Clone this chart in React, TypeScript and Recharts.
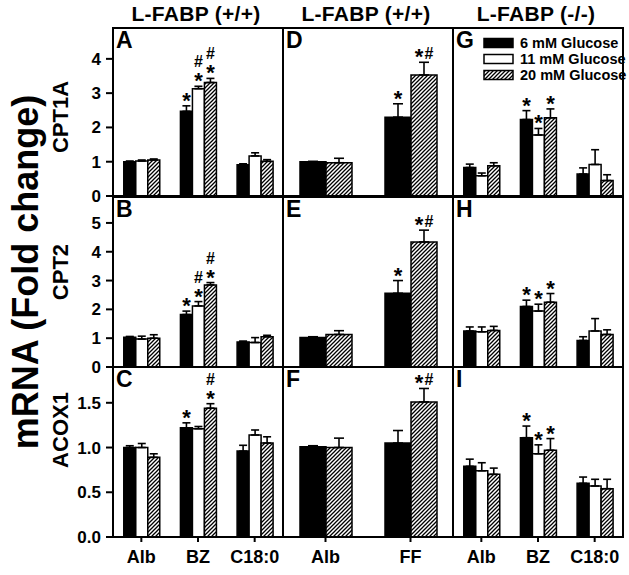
import React from "react";
import { BarChart, Bar, XAxis, YAxis, ErrorBar, ReferenceArea, LabelList } from "recharts";

const FONT = "'Liberation Sans', Arial, Helvetica, sans-serif";

const glucoseLevels = ["6 mM Glucose", "11 mM Glucose", "20 mM Glucose"];
const treatments3 = ["Alb", "BZ", "C18:0"];
const treatments2 = ["Alb", "FF"];
const columnTitles = ["L-FABP (+/+)", "L-FABP (+/+)", "L-FABP (-/-)"];
const geneNames = ["CPT1A", "CPT2", "ACOX1"];
const panelLetters = [
  ["A", "D", "G"],
  ["B", "E", "H"],
  ["C", "F", "I"],
];

const ticksCPT1A = [0, 1, 2, 3, 4];
const ticksCPT2 = [0, 1, 2, 3, 4, 5];
const ticksACOX1 = [0, 0.5, 1.0, 1.5];
const maxCPT1A = 4.9;
const maxCPT2 = 5.9;
const maxACOX1 = 1.9;

// CPT1A, L-FABP (+/+), Alb / BZ / C18:0
const A_6 = [1.0, 2.47, 0.91];
const A_6_sem = [0.02, 0.16, 0.03];
const A_6_sig = ["", "*", ""];
const A_11 = [1.02, 3.13, 1.17];
const A_11_sem = [0.03, 0.07, 0.09];
const A_11_sig = ["", "#\n*", ""];
const A_20 = [1.05, 3.31, 1.01];
const A_20_sem = [0.03, 0.12, 0.05];
const A_20_sig = ["", "#\n*", ""];

// CPT1A, L-FABP (+/+), Alb / FF
const D_6 = [1.0, 2.3];
const D_6_sem = [0.01, 0.39];
const D_6_sig = ["", "*"];
const D_20 = [0.97, 3.53];
const D_20_sem = [0.13, 0.37];
const D_20_sig = ["", "*#"];

// CPT1A, L-FABP (-/-)
const G_6 = [0.83, 2.23, 0.64];
const G_6_sem = [0.1, 0.26, 0.18];
const G_11 = [0.59, 1.78, 0.92];
const G_11_sem = [0.08, 0.19, 0.43];
const G_20 = [0.88, 2.28, 0.45];
const G_20_sem = [0.09, 0.26, 0.17];
const G_sig = ["", "*", ""];

// CPT2
const B_6 = [1.03, 1.82, 0.87];
const B_6_sem = [0.03, 0.12, 0.03];
const B_6_sig = ["", "*", ""];
const B_11 = [0.97, 2.12, 0.85];
const B_11_sem = [0.1, 0.15, 0.17];
const B_11_sig = ["", "#\n*", ""];
const B_20 = [1.0, 2.85, 1.05];
const B_20_sem = [0.12, 0.08, 0.05];
const B_20_sig = ["", "#\n*", ""];

const E_6 = [1.02, 2.56];
const E_6_sem = [0.03, 0.44];
const E_6_sig = ["", "*"];
const E_20 = [1.13, 4.34];
const E_20_sem = [0.13, 0.41];
const E_20_sig = ["", "*#"];

const H_6 = [1.25, 2.1, 0.92];
const H_6_sem = [0.14, 0.22, 0.13];
const H_11 = [1.22, 1.94, 1.25];
const H_11_sem = [0.17, 0.24, 0.43];
const H_20 = [1.27, 2.25, 1.13];
const H_20_sem = [0.14, 0.3, 0.16];
const H_sig = ["", "*", ""];

// ACOX1
const C_6 = [1.0, 1.22, 0.96];
const C_6_sem = [0.02, 0.056, 0.065];
const C_6_sig = ["", "*", ""];
const C_11 = [1.0, 1.21, 1.14];
const C_11_sem = [0.045, 0.025, 0.056];
const C_11_sig = ["", "", ""];
const C_20 = [0.89, 1.44, 1.05];
const C_20_sem = [0.04, 0.05, 0.07];
const C_20_sig = ["", "#\n*", ""];

const F_6 = [1.01, 1.05];
const F_6_sem = [0.01, 0.14];
const F_6_sig = ["", ""];
const F_20 = [1.0, 1.51];
const F_20_sem = [0.105, 0.15];
const F_20_sig = ["", "*#"];

const I_6 = [0.79, 1.11, 0.6];
const I_6_sem = [0.08, 0.13, 0.07];
const I_11 = [0.74, 0.93, 0.57];
const I_11_sem = [0.09, 0.1, 0.075];
const I_20 = [0.7, 0.97, 0.54];
const I_20_sem = [0.07, 0.13, 0.105];
const I_sig = ["", "*", ""];

type Series = { level: number; mean: number[]; sem: number[]; sig: string[] };

// plot rectangles (px)
const colX = [113, 283, 453];
const PW = 170;
const rowY = [28, 197, 367];
const rowH = [168, 170, 170];

function renderSig(p: any, rows: any[], k: number) {
  const vb = p.viewBox || {};
  const x = p.x ?? vb.x;
  const y = p.y ?? vb.y;
  const w = p.width ?? vb.width;
  const h = p.height ?? vb.height;
  const row = rows[p.index];
  if (!row) return null;
  const txt: string = row["s" + k];
  if (!txt) return null;
  const mean = row["m" + k];
  const sem = row["e" + k][1];
  const errTop = y - sem * (h / mean);
  const cx = x + w / 2;
  const lines = txt.split("\n").reverse();
  const out: any[] = [];
  lines.forEach((ln, li) => {
    const chars = ln.split("");
    const hasHash = ln.includes("#");
    // baseline of this line, stacked upwards from the error bar top
    const base = li === 0 ? errTop + (hasHash ? -3 : 2) : errTop - 19 - (li - 1) * 16;
    chars.forEach((ch, ci) => {
      const dx = (ci - (chars.length - 1) / 2) * 10;
      const isStar = ch === "*";
      out.push(
        <text
          key={`${li}-${ci}`}
          x={cx + dx}
          y={isStar && hasHash ? base + 5 : base}
          fontSize={isStar ? 22 : 16}
          fontWeight="bold"
          textAnchor="middle"
          fontFamily={FONT}
          fill="#000"
        >
          {ch}
        </text>
      );
    });
  });
  return <g>{out}</g>;
}

function Panel({
  id,
  cats,
  series,
  col,
  row,
  top,
  ticks,
}: {
  id: string;
  cats: string[];
  series: Series[];
  col: number;
  row: number;
  top: number;
  ticks: number[];
}) {
  const showY = col === 0;
  const showX = row === 2;
  const yw = showY ? 52 : 8;
  const xh = showX ? 40 : 14;
  const h = rowH[row];
  const rows = cats.map((c, i) => {
    const r: any = { cat: c };
    series.forEach((s, k) => {
      r["m" + k] = s.mean[i];
      r["e" + k] = [0, s.sem[i]];
      r["s" + k] = s.sig[i];
    });
    return r;
  });
  const fills = ["#000", "#fff", `url(#hatch-${id})`];
  const axisStroke = { stroke: "#000", strokeWidth: 2 };
  const yFont = { fill: "#000", fontSize: 17, fontWeight: "bold", fontFamily: FONT };
  const xFont = { fill: "#000", fontSize: 18, fontWeight: "bold", fontFamily: FONT };
  return (
    <div style={{ position: "absolute", left: colX[col] - yw, top: rowY[row] - 8 }}>
      <BarChart
        width={yw + PW + 3}
        height={h + 8 + xh}
        data={rows}
        margin={{ top: 8, right: 3, bottom: 0, left: 0 }}
        barCategoryGap={cats.length === 3 ? "19%" : "20%"}
        barGap={0}
      >
        <defs>
          <pattern id={`hatch-${id}`} patternUnits="userSpaceOnUse" width={4} height={4}>
            <rect width={4} height={4} fill="#fff" />
            <path d="M0,4 L4,0 M-1,1 L1,-1 M3,5 L5,3" stroke="#000" strokeWidth={1.3} />
          </pattern>
        </defs>
        <XAxis
          dataKey="cat"
          height={xh}
          interval={0}
          tickSize={5}
          tickMargin={8}
          axisLine={axisStroke}
          tickLine={axisStroke}
          tick={showX ? xFont : false}
        />
        <YAxis
          type="number"
          domain={[0, top]}
          ticks={ticks}
          interval={0}
          allowDataOverflow
          width={yw}
          tickSize={7}
          tickMargin={5}
          axisLine={axisStroke}
          tickLine={axisStroke}
          tick={showY ? yFont : false}
          tickFormatter={(v: number) => (row === 2 ? v.toFixed(1) : String(v))}
        />
        <ReferenceArea y1={0} y2={top} fill="none" stroke="#000" strokeWidth={2} ifOverflow="visible" />
        {series.map((s, k) => (
          <Bar
            key={k}
            dataKey={"m" + k}
            name={glucoseLevels[s.level]}
            fill={fills[s.level]}
            stroke="#000"
            strokeWidth={1.5}
            isAnimationActive={false}
          >
            <ErrorBar
              dataKey={"e" + k}
              direction="y"
              width={cats.length === 3 ? 4 : 5}
              stroke="#000"
              strokeWidth={1.6}
              isAnimationActive={false}
            />
            <LabelList dataKey={"s" + k} content={(p: any) => renderSig(p, rows, k)} />
          </Bar>
        ))}
      </BarChart>
    </div>
  );
}

function Overlay() {
  const legendFills = ["#000", "#fff", "url(#hatch-legend)"];
  const geneCY = [117, 272, 430];
  return (
    <svg width={629} height={575} style={{ position: "absolute", left: 0, top: 0, pointerEvents: "none" }}>
      <defs>
        <pattern id="hatch-legend" patternUnits="userSpaceOnUse" width={4} height={4}>
          <rect width={4} height={4} fill="#fff" />
          <path d="M0,4 L4,0 M-1,1 L1,-1 M3,5 L5,3" stroke="#000" strokeWidth={1.3} />
        </pattern>
      </defs>
      {columnTitles.map((t, i) => (
        <text key={t + i} x={colX[i] + PW / 2 - 2} y={21} textAnchor="middle" fontSize={21} fontWeight="bold" fontFamily={FONT} letterSpacing={0.3}>
          {t}
        </text>
      ))}
      {panelLetters.map((r, ri) =>
        r.map((l, ci) => (
          <text key={l} x={colX[ci] + 3} y={rowY[ri] + 20} fontSize={23} fontWeight="bold" fontFamily={FONT}>
            {l}
          </text>
        ))
      )}
      <text transform="translate(38,272) rotate(-90)" textAnchor="middle" fontSize={36} fontWeight="bold" fontFamily={FONT}>
        mRNA (Fold change)
      </text>
      {geneNames.map((g, i) => (
        <text key={g} transform={`translate(68,${geneCY[i]}) rotate(-90)`} textAnchor="middle" fontSize={22} fontWeight="bold" fontFamily={FONT}>
          {g}
        </text>
      ))}
      {glucoseLevels.map((name, i) => {
        const cy = 43 + i * 16;
        return (
          <g key={name}>
            <rect x={484} y={cy - 4.5} width={29} height={9} fill={legendFills[i]} stroke="#000" strokeWidth={1.5} />
            <text x={520} y={cy + 5} fontSize={14.5} fontWeight="bold" fontFamily={FONT}>
              {name}
            </text>
          </g>
        );
      })}
    </svg>
  );
}

export default function App() {
  const sA: Series[] = [
    { level: 0, mean: A_6, sem: A_6_sem, sig: A_6_sig },
    { level: 1, mean: A_11, sem: A_11_sem, sig: A_11_sig },
    { level: 2, mean: A_20, sem: A_20_sem, sig: A_20_sig },
  ];
  const sD: Series[] = [
    { level: 0, mean: D_6, sem: D_6_sem, sig: D_6_sig },
    { level: 2, mean: D_20, sem: D_20_sem, sig: D_20_sig },
  ];
  const sG: Series[] = [
    { level: 0, mean: G_6, sem: G_6_sem, sig: G_sig },
    { level: 1, mean: G_11, sem: G_11_sem, sig: G_sig },
    { level: 2, mean: G_20, sem: G_20_sem, sig: G_sig },
  ];
  const sB: Series[] = [
    { level: 0, mean: B_6, sem: B_6_sem, sig: B_6_sig },
    { level: 1, mean: B_11, sem: B_11_sem, sig: B_11_sig },
    { level: 2, mean: B_20, sem: B_20_sem, sig: B_20_sig },
  ];
  const sE: Series[] = [
    { level: 0, mean: E_6, sem: E_6_sem, sig: E_6_sig },
    { level: 2, mean: E_20, sem: E_20_sem, sig: E_20_sig },
  ];
  const sH: Series[] = [
    { level: 0, mean: H_6, sem: H_6_sem, sig: H_sig },
    { level: 1, mean: H_11, sem: H_11_sem, sig: H_sig },
    { level: 2, mean: H_20, sem: H_20_sem, sig: H_sig },
  ];
  const sC: Series[] = [
    { level: 0, mean: C_6, sem: C_6_sem, sig: C_6_sig },
    { level: 1, mean: C_11, sem: C_11_sem, sig: C_11_sig },
    { level: 2, mean: C_20, sem: C_20_sem, sig: C_20_sig },
  ];
  const sF: Series[] = [
    { level: 0, mean: F_6, sem: F_6_sem, sig: F_6_sig },
    { level: 2, mean: F_20, sem: F_20_sem, sig: F_20_sig },
  ];
  const sI: Series[] = [
    { level: 0, mean: I_6, sem: I_6_sem, sig: I_sig },
    { level: 1, mean: I_11, sem: I_11_sem, sig: I_sig },
    { level: 2, mean: I_20, sem: I_20_sem, sig: I_sig },
  ];

  return (
    <div style={{ position: "absolute", left: 0, top: 0, width: 629, height: 575, background: "#fff", fontFamily: FONT }}>
      <Panel id="A" cats={treatments3} series={sA} col={0} row={0} top={maxCPT1A} ticks={ticksCPT1A} />
      <Panel id="D" cats={treatments2} series={sD} col={1} row={0} top={maxCPT1A} ticks={ticksCPT1A} />
      <Panel id="G" cats={treatments3} series={sG} col={2} row={0} top={maxCPT1A} ticks={ticksCPT1A} />
      <Panel id="B" cats={treatments3} series={sB} col={0} row={1} top={maxCPT2} ticks={ticksCPT2} />
      <Panel id="E" cats={treatments2} series={sE} col={1} row={1} top={maxCPT2} ticks={ticksCPT2} />
      <Panel id="H" cats={treatments3} series={sH} col={2} row={1} top={maxCPT2} ticks={ticksCPT2} />
      <Panel id="C" cats={treatments3} series={sC} col={0} row={2} top={maxACOX1} ticks={ticksACOX1} />
      <Panel id="F" cats={treatments2} series={sF} col={1} row={2} top={maxACOX1} ticks={ticksACOX1} />
      <Panel id="I" cats={treatments3} series={sI} col={2} row={2} top={maxACOX1} ticks={ticksACOX1} />
      <Overlay />
    </div>
  );
}
